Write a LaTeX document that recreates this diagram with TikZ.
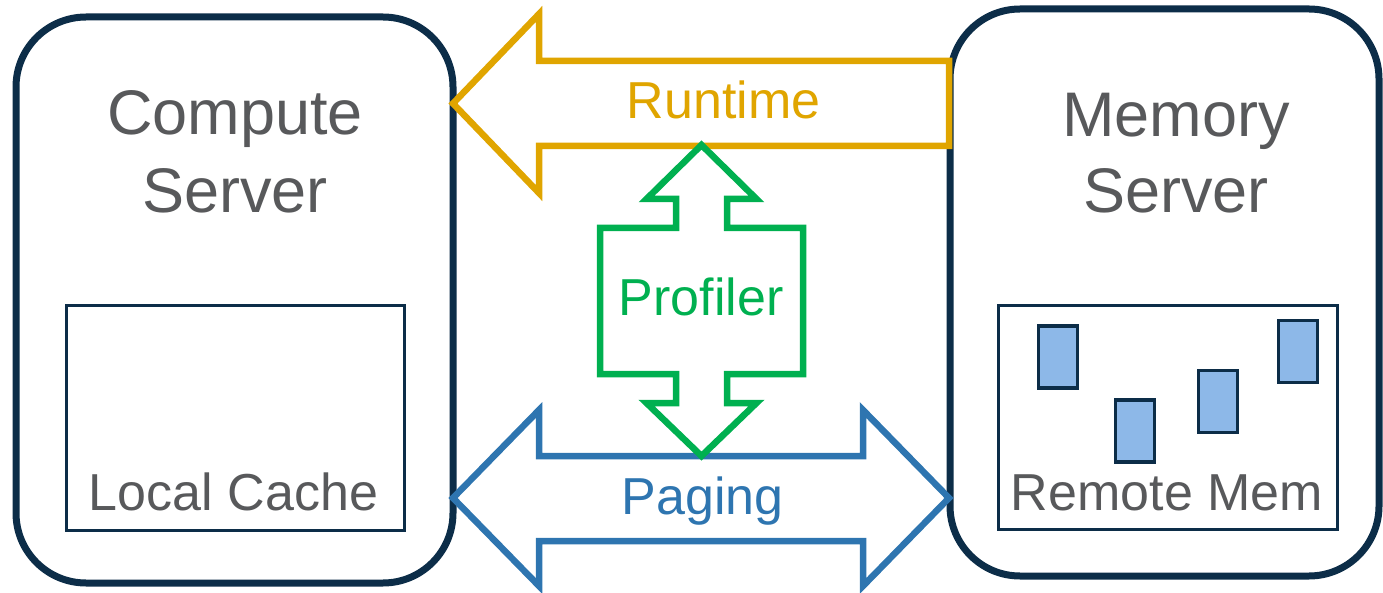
\documentclass[tikz,border=0pt]{standalone}
\usepackage{fontspec}
\setmainfont{Liberation Sans}
\definecolor{navy}{HTML}{0C2D48}
\definecolor{txtgray}{HTML}{58595B}
\definecolor{rtorange}{HTML}{E0A500}
\definecolor{prgreen}{HTML}{00B050}
\definecolor{pgblue}{HTML}{2E75B0}
\definecolor{pagefill}{HTML}{8DB8E8}
\tikzset{
  server/.style={draw=navy, line width=7pt, rounded corners=70pt, fill=white},
  membox/.style={draw=navy, line width=3pt},
  page/.style={draw=navy, fill=pagefill, line width=3.3pt, minimum width=39pt, minimum height=62pt, inner sep=0pt},
  title/.style={text=txtgray, font=\fontsize{63pt}{75pt}\selectfont, anchor=base, inner sep=0pt},
  label/.style={font=\fontsize{52pt}{62pt}\selectfont, anchor=base, inner sep=0pt},
  blockarrow/.style={line width=6.5pt, line join=miter, miter limit=10},
}
\begin{document}
\begin{tikzpicture}[x=1pt,y=-1pt]
\useasboundingbox (0,0) rectangle (1383,593);
% servers
\draw[server] (16,17) rectangle (453,583);
\draw[server] (950,9) rectangle (1379,576);
\node[title] (cs1) at (235,135) {Compute};
\node[title] (cs2) at (235,213) {Server};
\node[title] (ms1) at (1176,137) {Memory};
\node[title] (ms2) at (1176,213) {Server};
% inner boxes
\draw[membox] (66,306) rectangle (404,530);
\node[label, text=txtgray] (lc) at (233.5,510) {Local Cache};
\draw[membox] (998,306) rectangle (1337,529);
\node[label, text=txtgray] (rm) at (1167,510) {Remote Mem};
\node[page] (p1) at (1058,357) {};
\node[page] (p2) at (1135,431) {};
\node[page] (p3) at (1218,401.5) {};
\node[page] (p4) at (1298,351.5) {};
% runtime arrow
\draw[blockarrow, draw=rtorange] (453,103.5) -- (539,14) -- (539,61) -- (949,61) -- (949,146) -- (539,146) -- (539,193) -- cycle;
\node[label, text=rtorange] (rt) at (723.5,119) {Runtime};
% paging arrow
\draw[blockarrow, draw=pgblue] (453,498) -- (539,410) -- (539,456) -- (863,456) -- (863,410) -- (949,498) -- (863,586) -- (863,541) -- (539,541) -- (539,586) -- cycle;
\node[label, text=pgblue] (pg) at (702.5,514) {Paging};
% profiler arrow
\draw[blockarrow, draw=prgreen] (701.5,145) -- (756.5,199) -- (727,199) -- (727,228) -- (803,228) -- (803,374) -- (727,374) -- (727,403) -- (756.5,403) -- (701.5,456) -- (646.5,403) -- (676,403) -- (676,374) -- (600,374) -- (600,228) -- (676,228) -- (676,199) -- (646.5,199) -- cycle;
\node[label, text=prgreen] (pr) at (701,316) {Profiler};
\end{tikzpicture}
\end{document}
